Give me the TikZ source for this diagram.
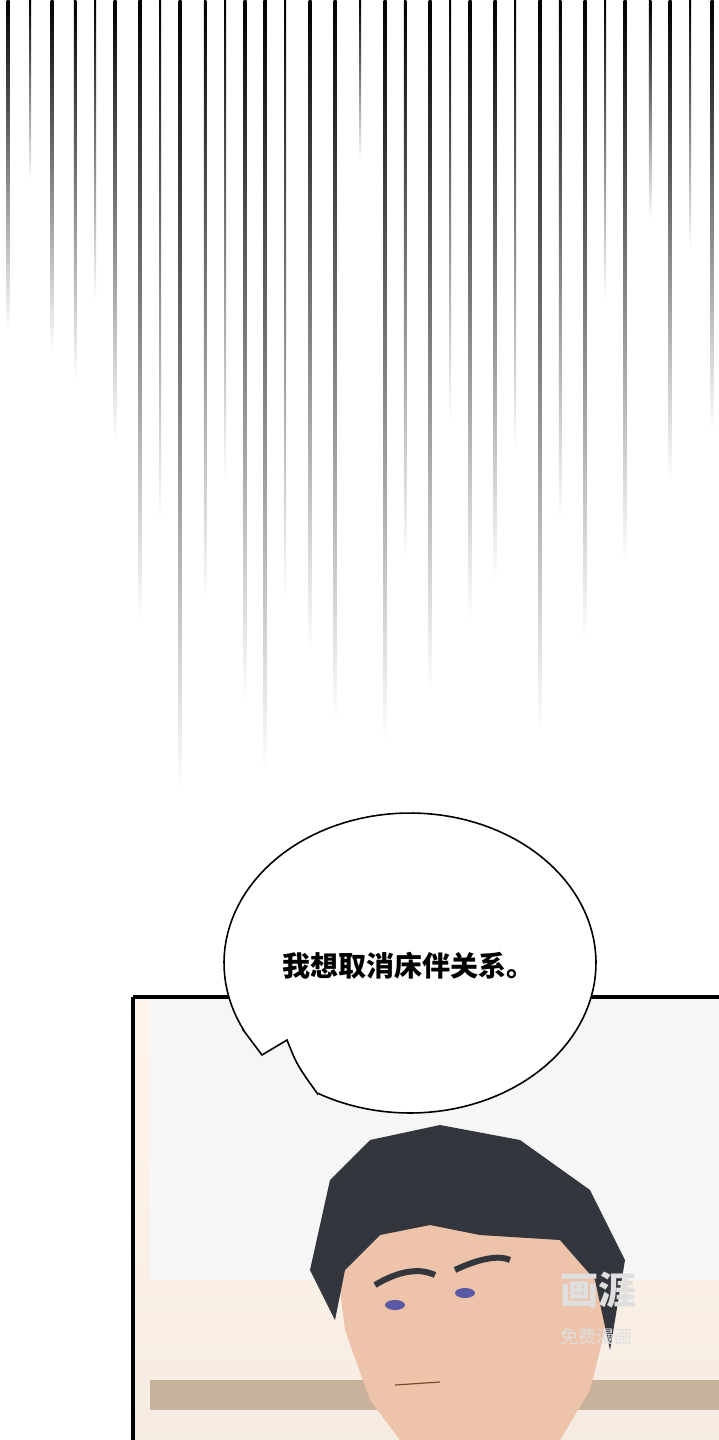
\documentclass[tikz,border=0pt]{standalone}
\usepackage{fontspec}
\usetikzlibrary{shapes.geometric}
\newfontfamily\cjk{Noto Sans CJK SC}
\definecolor{hair}{HTML}{33363D}
\definecolor{skin}{HTML}{EDC3AA}
\begin{document}
\begin{tikzpicture}[x=1pt,y=-1pt,
  speed/.style={top color=black,bottom color=white,draw=none},
  bubble/.style={draw=black,line width=1.6pt,fill=white,line join=miter}]
\useasboundingbox (0,0) rectangle (719,1440);
\fill[white] (0,0) rectangle (719,1440);
% speed lines
\foreach \x/\l/\w in {8/330/3,30/180/2,52/350/3,75/380/2.5,95/300/2,115/440/3,140/620/3.5,160/520/2,180/790/3,205/600/2.5,225/480/2,245/700/3,265/770/3.5,285/600/2,310/650/3,335/720/3,360/160/2,385/740/3,405/560/2.5,430/690/3,450/420/2,470/620/3,495/580/3,515/450/2,540/730/3.5,560/520/2.5,585/640/3,605/300/2,625/560/3,650/220/2.5,670/480/3,690/250/2,712/430/3}
  \shade[speed] (\x-\w/2,0) rectangle (\x+\w/2,\l);
% panel
\shade[top color=white!92!orange, bottom color=white!85!brown] (133,997) rectangle (719,1440);
\fill[white!93!gray] (150,1000) rectangle (719,1280);
\fill[gray!40!brown!60] (150,1380) rectangle (719,1410);
% head
\fill[skin] (335,1250) -- (345,1330) -- (370,1400) -- (400,1440) -- (560,1440) -- (590,1390) -- (605,1330) -- (600,1260) -- (560,1220) -- (430,1215) -- cycle;
\fill[hair] (310,1270) -- (330,1180) -- (370,1140) -- (440,1125) -- (520,1140) -- (590,1190) -- (625,1260) -- (610,1350) -- (595,1280) -- (560,1240) -- (480,1235) -- (430,1225) -- (380,1235) -- (345,1270) -- (335,1320) -- cycle;
\draw[line width=6pt,hair] (375,1285) .. controls (400,1270) and (420,1268) .. (435,1275);
\draw[line width=6pt,hair] (455,1270) .. controls (480,1258) and (500,1255) .. (510,1260);
\fill[gray!70!blue] (395,1305) ellipse (10 and 5);
\fill[gray!70!blue] (465,1293) ellipse (10 and 5);
\draw[line width=1.2pt,brown!60!black] (395,1385) -- (440,1382);
\draw[line width=4pt] (133,997) -- (133,1440);
\draw[line width=4pt] (133,997) -- (719,997);
% watermark
\node[text=white!75!gray,font=\cjk\bfseries\fontsize{38}{38}\selectfont] (wm) at (598,1290) {画涯};
\node[text=white!75!gray,font=\cjk\fontsize{18}{18}\selectfont] (wm2) at (596,1337) {免费漫画};
% bubble
\draw[bubble] (244,1031) -- (262,1055) -- (287,1040) .. controls (297,1065) .. (317,1093)
  -- plot[domain=120:-207,samples=120] ({410+186*cos(\x)},{963+150*sin(\x)}) -- cycle;
\node[font=\cjk\bfseries\fontsize{28}{28}\selectfont] (t) at (408,966) {我想取消床伴关系。};
\end{tikzpicture}
\end{document}
